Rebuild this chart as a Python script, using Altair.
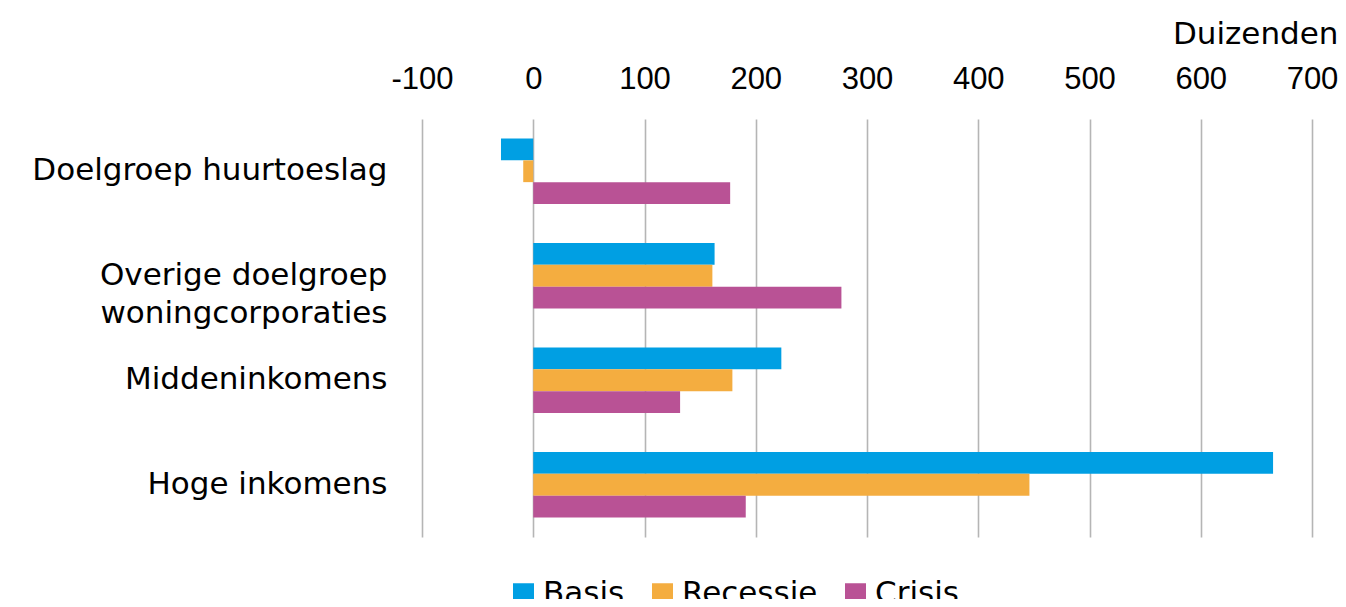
import altair as alt
import pandas as pd

categories = ["Doelgroep huurtoeslag", "Overige doelgroep woningcorporaties", "Middeninkomens", "Hoge inkomens"]
series = ["Basis", "Recessie", "Crisis"]
basis = [-29, 163, 223, 665]
recessie = [-9, 161, 179, 446]
crisis = [177, 277, 132, 191]
colors = ["#009FE3", "#F4AD40", "#B95295"]
x_ticks = [-100, 0, 100, 200, 300, 400, 500, 600, 700]

rows = []
for s, vals in zip(series, [basis, recessie, crisis]):
    for c, v in zip(categories, vals):
        rows.append({"categorie": c, "scenario": s, "waarde": v})
df = pd.DataFrame(rows)

TEXT_FONT = "DejaVu Sans"
NUM_FONT = "Liberation Sans"
FS = 31

chart = alt.Chart(df).mark_bar().encode(
    x=alt.X(
        "waarde:Q",
        scale=alt.Scale(domain=[-100, 700], nice=False, zero=False),
        axis=alt.Axis(
            orient="top",
            values=x_ticks,
            title="Duizenden",
            titleFont=TEXT_FONT,
            titleFontSize=FS,
            titleFontWeight="normal",
            titleAlign="right",
            titleAnchor="end",
            titleBaseline="alphabetic",
            titleX=916,
            titleY=-76,
            titleColor="#000000",
            labelFont=NUM_FONT,
            labelFontSize=FS,
            labelColor="#000000",
            labelPadding=31,
            labelBaseline="alphabetic",
            labelExpr="toString(datum.value)",
            ticks=False,
            domain=False,
            grid=True,
            gridColor="#B5B5B5",
            gridWidth=1.6,
            labelFlush=False,
            labelOverlap=False,
        ),
    ),
    y=alt.Y(
        "categorie:N",
        sort=categories,
        scale=alt.Scale(paddingInner=0.375, paddingOuter=0.1875),
        axis=alt.Axis(
            title=None,
            labelFont=TEXT_FONT,
            labelFontSize=FS,
            labelColor="#000000",
            labelPadding=35,
            labelLineHeight=38,
            labelLimit=500,
            ticks=False,
            domain=False,
            grid=False,
            labelExpr="datum.value == 'Overige doelgroep woningcorporaties' ? ['Overige doelgroep\u2004', 'woningcorporaties'] : datum.label",
        ),
    ),
    yOffset=alt.YOffset("scenario:N", sort=series, scale=alt.Scale(paddingInner=0, paddingOuter=0)),
    color=alt.Color(
        "scenario:N",
        sort=series,
        scale=alt.Scale(domain=series, range=colors),
        legend=alt.Legend(
            title=None,
            orient="none",
            direction="horizontal",
            legendX=86,
            legendY=459,
            symbolType="square",
            symbolSize=441,
            symbolStrokeWidth=0,
            symbolOpacity=1,
            labelFont=TEXT_FONT,
            labelFontSize=FS,
            labelColor="#000000",
            labelOffset=4,
            columnPadding=22,
        ),
    ),
).properties(
    width=890,
    height=418,
    padding={"left": 414, "top": 111, "right": 26, "bottom": 62},
    autosize=alt.AutoSizeParams(type="none"),
).configure(font=TEXT_FONT).configure_view(stroke=None)

chart.save("out.html", embed_options={"renderer": "svg", "actions": False})
